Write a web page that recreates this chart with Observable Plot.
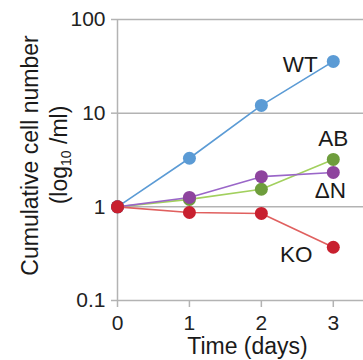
<!DOCTYPE html>
<html>
<head>
<meta charset="utf-8">
<script src="https://cdn.jsdelivr.net/npm/d3@7"></script>
<script src="https://cdn.jsdelivr.net/npm/@observablehq/plot@0.6"></script>
<style>
  html, body { margin: 0; padding: 0; background: #fff; }
</style>
</head>
<body>
<div id="chart"></div>
<script>
const days = [0, 1, 2, 3];
const wtValues = [1, 3.3, 12.1, 35.7];
const abValues = [1, 1.2, 1.54, 3.21];
const dnValues = [1, 1.26, 2.1, 2.33];
const koValues = [1, 0.87, 0.85, 0.37];
const seriesNames = ["WT", "AB", "ΔN", "KO"];
const lineColors = ["#5b9bd5", "#a2d05e", "#9a66c8", "#e0605f"];
const dotColors = ["#5b9bd5", "#6e9d3c", "#8e449e", "#c8202f"];
const yTicks = [0.1, 1, 10, 100];
const yTickLabels = ["0.1", "1", "10", "100"];
const xTicks = [0, 1, 2, 3];
const xTickLabels = ["0", "1", "2", "3"];
const xTitle = "Time (days)";
const yTitle1 = "Cumulative cell number";
const yTitle2 = "(log10 /ml)";

const allValues = [wtValues, abValues, dnValues, koValues];
const rows = [];
allValues.forEach((vals, s) => {
  vals.forEach((v, i) => rows.push({series: seriesNames[s], day: days[i], value: v, s}));
});
const lastRows = seriesNames.map((name, s) => rows.filter(r => r.s === s).slice(-1)[0]);

// label offsets (style)
const labelOffsets = [
  {dx: -33, dy: 11},
  {dx: 0, dy: -13},
  {dx: -3, dy: 26},
  {dx: -37, dy: 15}
];

const grid = "#b3b3b3";
const font = "'Liberation Sans', Arial, sans-serif";

const marks = [
  Plot.ruleY(yTicks, {y: d => d, stroke: grid, strokeWidth: 1.5}),
  Plot.ruleX([0], {y1: 0.1, y2: 100, stroke: grid, strokeWidth: 1.5}),
  Plot.axisY({
    ticks: yTicks,
    tickFormat: d => yTickLabels[yTicks.indexOf(d)],
    tickSize: 6, tickPadding: 6, fontSize: 21,
    stroke: grid, strokeWidth: 1.5, fill: "#222", label: null
  }),
  Plot.axisX({
    ticks: xTicks,
    tickFormat: d => xTickLabels[xTicks.indexOf(d)],
    tickSize: 7, tickPadding: 8, fontSize: 21,
    stroke: grid, strokeWidth: 1.5, fill: "#222", label: null
  })
];

seriesNames.forEach((name, s) => {
  marks.push(Plot.line(rows.filter(r => r.s === s), {x: "day", y: "value", stroke: lineColors[s], strokeWidth: 1.6}));
});
seriesNames.forEach((name, s) => {
  marks.push(Plot.dot(rows.filter(r => r.s === s), {x: "day", y: "value", r: 6.5, fill: dotColors[s], stroke: "none"}));
});
seriesNames.forEach((name, s) => {
  marks.push(Plot.text([lastRows[s]], {
    x: "day", y: "value", text: "series",
    dx: labelOffsets[s].dx, dy: labelOffsets[s].dy,
    textAnchor: "middle", lineAnchor: "bottom",
    fontSize: 22.5, fill: "#1a1a1a"
  }));
});

marks.push(Plot.text([xTitle], {
  frameAnchor: "bottom", text: d => d, dx: 7, dy: 53,
  textAnchor: "middle", lineAnchor: "bottom", fontSize: 23, fill: "#1a1a1a"
}));
marks.push(Plot.text([yTitle1], {
  frameAnchor: "left", text: d => d, rotate: -90, dx: -80, dy: -4.5,
  textAnchor: "middle", lineAnchor: "bottom", fontSize: 23, fill: "#1a1a1a"
}));
marks.push(Plot.text([yTitle2], {
  frameAnchor: "left", text: d => d, rotate: -90, dx: -51, dy: -5,
  textAnchor: "middle", lineAnchor: "bottom", fontSize: 23, fill: "#1a1a1a",
  className: "ytitle2"
}));

const chart = Plot.plot({
  width: 363,
  height: 360,
  marginLeft: 117,
  marginRight: 0,
  marginTop: 19,
  marginBottom: 60,
  style: {fontFamily: font, background: "#fff", overflow: "visible"},
  x: {domain: [0, 3.42]},
  y: {type: "log", domain: [0.1, 100]},
  marks
});

// subscript for log10
d3.select(chart).selectAll("g.ytitle2 text").each(function() {
  const t = d3.select(this);
  t.text(null);
  t.append("tspan").text("(lo");
  t.append("tspan").text("g");
  t.append("tspan").attr("font-size", "14").attr("baseline-shift", "-25%").text("10");
  t.append("tspan").text(" /ml)");
});

document.getElementById("chart").appendChild(chart);
</script>
</body>
</html>
